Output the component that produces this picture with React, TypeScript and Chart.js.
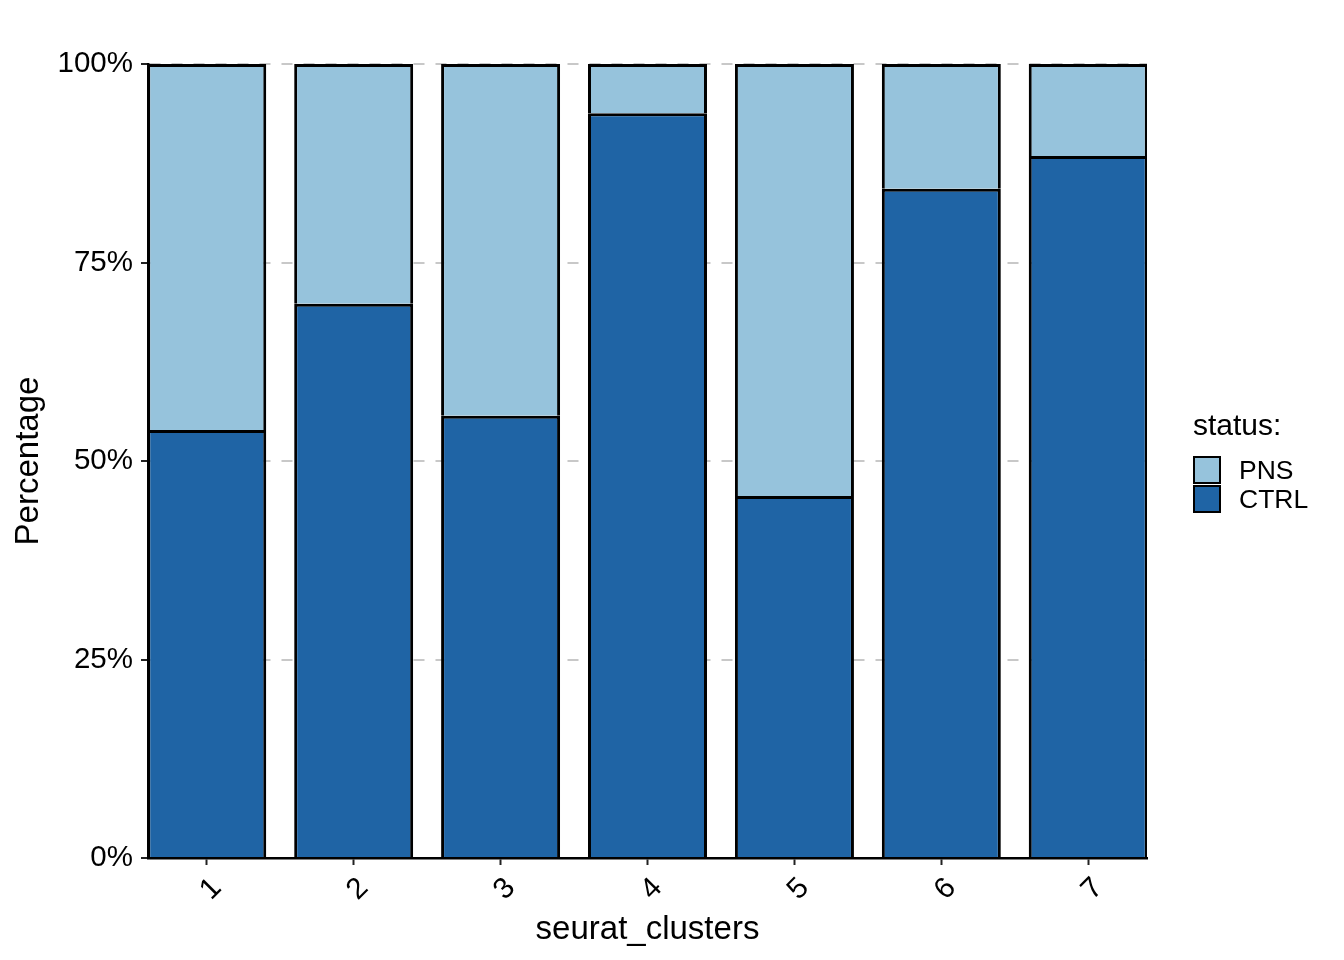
import React, { useEffect, useRef } from 'react';
import { Chart, registerables } from 'chart.js';

Chart.register(...registerables);

// percentage of cells per cluster
const clusters = ['1', '2', '3', '4', '5', '6', '7'];
const ctrlPercent = [53.9, 69.8, 55.7, 93.8, 45.6, 84.3, 88.4];
const pnsPercent = [46.1, 30.2, 44.3, 6.2, 54.4, 15.7, 11.6];
const yTicks = [0, 25, 50, 75, 100];
const legendOrder = ['PNS', 'CTRL'];

const COLORS: Record<string, string> = {
    PNS: '#96C3DC',
    CTRL: '#1F64A5',
};
const FONT = '"Liberation Sans", Arial, Helvetica, sans-serif';

const StatusChart: React.FC = () => {
    const canvasRef = useRef<HTMLCanvasElement>(null);
    const chartRef = useRef<Chart | null>(null);

    useEffect(() => {
        const ctx = canvasRef.current?.getContext('2d');
        if (!ctx) return;

        if (chartRef.current) {
            chartRef.current.destroy();
        }

        const toPoints = (values: number[]) =>
            clusters.map((_, i) => ({ x: i + 1, y: values[i] }));

        chartRef.current = new Chart(ctx, {
            type: 'bar',
            data: {
                datasets: [
                    {
                        label: 'CTRL',
                        data: toPoints(ctrlPercent),
                        backgroundColor: COLORS.CTRL,
                        borderColor: '#000',
                        borderWidth: 3,
                    },
                    {
                        label: 'PNS',
                        data: toPoints(pnsPercent),
                        backgroundColor: COLORS.PNS,
                        borderColor: '#000',
                        borderWidth: 3,
                    },
                ],
            },
            options: {
                responsive: false,
                animation: false,
                categoryPercentage: 1,
                barPercentage: 0.81,
                layout: {
                    padding: { top: 64, right: 197, bottom: 0, left: 0 },
                },
                scales: {
                    x: {
                        type: 'linear',
                        stacked: true,
                        min: 0.6,
                        max: 7.4,
                        offset: false,
                        afterBuildTicks: (scale: any) => {
                            scale.ticks = clusters.map((_, i) => ({ value: i + 1 }));
                        },
                        afterFit: (scale: any) => {
                            scale.height = 102;
                        },
                        grid: {
                            offset: false,
                            drawOnChartArea: false,
                            drawTicks: true,
                            tickLength: 7,
                            tickColor: '#222',
                            tickWidth: 2,
                        },
                        border: { color: '#000', width: 2.5, z: 1 },
                        ticks: {
                            autoSkip: false,
                            minRotation: 45,
                            maxRotation: 45,
                            padding: 6,
                            labelOffset: 10,
                            color: '#000',
                            font: { family: FONT, size: 29.5 },
                            callback: (_value: any, index: number) => clusters[index],
                        },
                        title: {
                            display: true,
                            text: 'seurat_clusters',
                            color: '#000',
                            font: { family: FONT, size: 33 },
                            padding: { top: 0, bottom: 10 },
                        },
                    },
                    y: {
                        stacked: true,
                        min: 0,
                        max: 100,
                        afterBuildTicks: (scale: any) => {
                            scale.ticks = yTicks.map((v) => ({ value: v }));
                        },
                        afterFit: (scale: any) => {
                            scale.width = 148;
                        },
                        grid: {
                            color: '#C8C8C8',
                            lineWidth: 2,
                            drawTicks: true,
                            tickLength: 7,
                            tickColor: '#222',
                            tickWidth: 2,
                            tickBorderDash: [],
                        },
                        border: { color: '#000', width: 2.5, dash: [11, 11], z: 1 },
                        ticks: {
                            padding: 8,
                            color: '#000',
                            font: { family: FONT, size: 29.5 },
                            callback: (value: any) => `${value}%`,
                        },
                        title: {
                            display: true,
                            text: 'Percentage',
                            color: '#000',
                            font: { family: FONT, size: 33 },
                            padding: { top: 9, bottom: 0 },
                        },
                    },
                },
                plugins: {
                    legend: { display: false },
                    tooltip: { enabled: false },
                },
            },
        });

        return () => {
            if (chartRef.current) {
                chartRef.current.destroy();
                chartRef.current = null;
            }
        };
    }, []);

    return (
        <div style={{ position: 'absolute', left: 0, top: 0, width: 1344, height: 960, background: '#fff' }}>
            <canvas ref={canvasRef} width={1344} height={960} style={{ width: 1344, height: 960, display: 'block' }} />
            <div style={{ position: 'absolute', left: 1193, top: 410, fontFamily: FONT, color: '#000' }}>
                <div style={{ fontSize: 30, lineHeight: '30px', marginBottom: 15 }}>status:</div>
                {legendOrder.map((name) => (
                    <div key={name} style={{ display: 'flex', alignItems: 'center', height: 29.3 }}>
                        <div
                            style={{
                                width: 28,
                                height: 28,
                                boxSizing: 'border-box',
                                border: '2px solid #000',
                                background: COLORS[name],
                            }}
                        />
                        <span style={{ marginLeft: 18, fontSize: 26.5, lineHeight: '26px' }}>{name}</span>
                    </div>
                ))}
            </div>
        </div>
    );
};

export default function App() {
    return <StatusChart />;
}
